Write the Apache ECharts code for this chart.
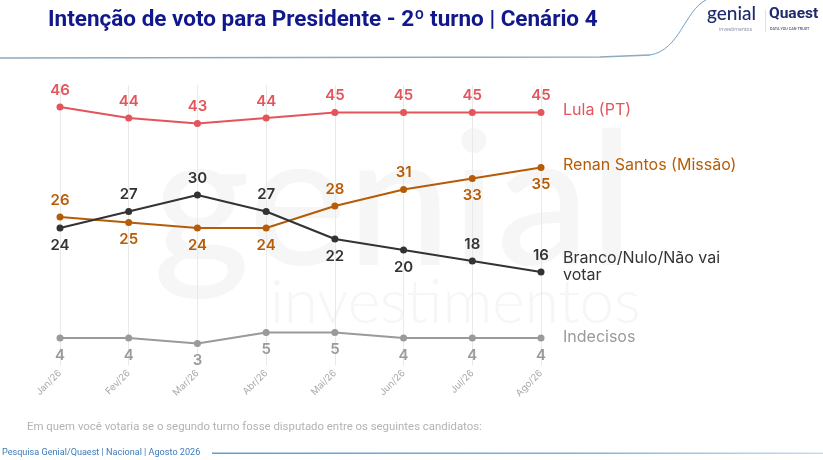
<!DOCTYPE html>
<html>
<head>
<meta charset="utf-8">
<script src="https://cdn.jsdelivr.net/npm/echarts@6/dist/echarts.min.js"></script>
<style>
html,body{margin:0;padding:0;background:#fff;}
#c{width:823px;height:460px;}
</style>
</head>
<body>
<div id="c"></div>
<script>
const categories = ['Jan/26','Fev/26','Mar/26','Abr/26','Mai/26','Jun/26','Jul/26','Ago/26'];
const lula = [46,44,43,44,45,45,45,45];
const renan = [26,25,24,24,28,31,33,35];
const branco = [24,27,30,27,22,20,18,16];
const indecisos = [4,4,3,5,5,4,4,4];
const renanPos = ['top','bottom','bottom','bottom','top','top','bottom','bottom'];
const brancoPos = ['bottom','top','top','top','bottom','bottom','top','top'];
const seriesNames = ['Lula (PT)','Renan Santos (Missão)','Branco/Nulo/Não vai\nvotar','Indecisos'];
const colors = ['#e3545b','#b65c06','#333333','#9a9a9a'];

const FONT = 'Inter, "Noto Sans", sans-serif';

function mkSeries(idx, vals, defaultPos, posArr, endOffset){
  return {
    type:'line',
    name: seriesNames[idx],
    data: vals.map((v,i)=>({value:v, label:{position: posArr ? posArr[i] : defaultPos}})),
    symbol:'circle',
    symbolSize:7,
    z: 5,
    lineStyle:{color:colors[idx], width:2.2},
    itemStyle:{color:colors[idx]},
    label:{
      show:true, position:defaultPos, distance:6,
      color:colors[idx], fontFamily:FONT, fontSize:15, fontWeight:600
    },
    endLabel:{
      show:true,
      formatter: seriesNames[idx],
      color:colors[idx], fontFamily:FONT, fontSize:16, fontWeight:400,
      distance:22, lineHeight:17, align:'left', verticalAlign:'middle',
      offset:endOffset
    },
    emphasis:{disabled:true}
  };
}

const chart = echarts.init(document.getElementById('c'), null, {renderer:'canvas'});
chart.setOption({
  animation:false,
  backgroundColor:'#fff',
  grid:{left:60, right:282, top:85, bottom:94.5, containLabel:false},
  xAxis:{
    type:'category', data:categories, boundaryGap:false,
    axisLine:{show:false}, axisTick:{show:false},
    axisLabel:{rotate:45, color:'#a8a8a8', fontFamily:FONT, fontSize:9.5, margin:6, interval:0},
    splitLine:{show:true, lineStyle:{color:'#e9e9e9', width:1}}
  },
  yAxis:{
    type:'value', min:-1, max:50,
    show:false, splitLine:{show:false}
  },
  graphic:[
    {type:'text', left:153, top:112, z:-10, silent:true,
      style:{text:'genial', fill:'#f6f6f6', font:'500 186px Lato, "Noto Sans", sans-serif'}},
    {type:'text', left:270, top:272, z:-10, silent:true,
      style:{text:'investimentos', fill:'#f6f6f6', font:'300 62px Lato, "Noto Sans", sans-serif'}},
    {type:'text', left:48, top:9, style:{text:'Intenção de voto para Presidente - 2º turno | Cenário 4', fill:'#10188c', font:'bold 22.5px Roboto, "Liberation Sans", sans-serif'}},
    {type:'polyline', silent:true, shape:{points:[[0,58],[300,57.5],[600,57],[650,55]]}, style:{stroke:'#8fa9bd', lineWidth:1.6, fill:null}},
    {type:'bezierCurve', silent:true, shape:{x1:650,y1:55,cpx1:680,cpy1:50,cpx2:685,cpy2:10,x2:706,y2:0}, style:{stroke:'#6aa2cf', lineWidth:1, fill:null}},
    {type:'text', left:707, top:4, style:{text:'genial', fill:'#1d2a6b', font:'500 19px Lato, "Noto Sans", sans-serif'}},
    {type:'text', left:719, top:27, style:{text:'investimentos', fill:'#8d93a8', font:'5px "Noto Sans", sans-serif'}},
    {type:'rect', shape:{x:765,y:10,width:0.6,height:22}, style:{fill:'#c8c8d0'}},
    {type:'text', left:769, top:6, style:{text:'Quaest', fill:'#1d2a6b', font:'bold 15.5px Roboto, sans-serif'}},
    {type:'text', left:770, top:27, style:{text:'DATA YOU CAN TRUST', fill:'#6a6f86', font:'bold 3.8px Roboto, sans-serif'}},
    {type:'text', left:27, top:422, style:{text:'Em quem você votaria se o segundo turno fosse disputado entre os seguintes candidatos:', fill:'#b3b3b3', font:'11.4px Roboto, "Noto Sans", sans-serif'}},
    {type:'text', left:2, top:448, style:{text:'Pesquisa Genial/Quaest | Nacional | Agosto 2026', fill:'#3d7bb8', font:'9.1px "Liberation Sans Narrow", "Roboto", sans-serif'}},
    {type:'rect', shape:{x:212,y:452.5,width:611,height:1.4}, style:{fill:new echarts.graphic.LinearGradient(0,0,1,0,[{offset:0,color:'#5e9fd6'},{offset:0.6,color:'#7fb2de'},{offset:1,color:'#c6dcef'}])}}
  ],
  series:[
    mkSeries(0, lula, 'top', null, [0,-2]),
    mkSeries(1, renan, 'top', renanPos, [0,-2]),
    mkSeries(2, branco, 'top', brancoPos, [0,-5]),
    mkSeries(3, indecisos, 'bottom', null, [0,-1])
  ]
});
</script>
</body>
</html>
